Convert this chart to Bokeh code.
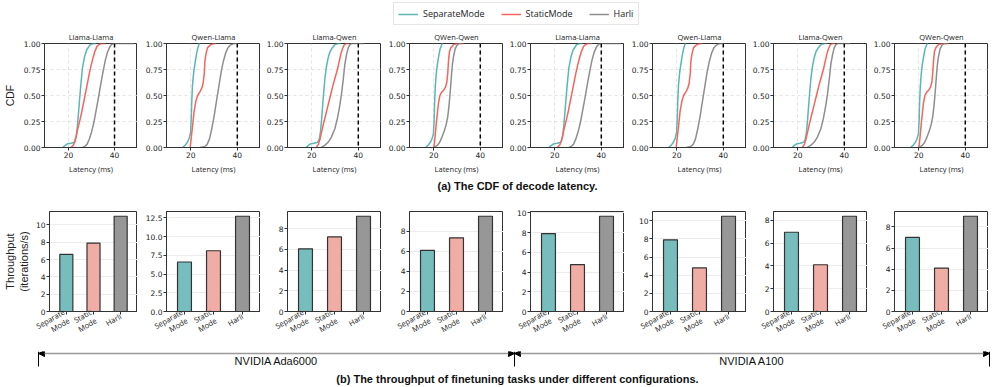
import math
from bokeh.plotting import figure
from bokeh.layouts import row, column
from bokeh.models import (Range1d, FactorRange, FixedTicker, NumeralTickFormatter, Span,
                          Legend, LegendItem, Arrow, NormalHead, ColumnDataSource)
from bokeh.core.properties import value
from bokeh.embed import file_html
from bokeh.resources import INLINE

# ---------------- data ----------------
MODES = ["SeparateMode", "StaticMode", "Harli"]
BAR_LABELS = ["Separate\nMode", "Static\nMode", "Harli"]
CDF_TITLES = ["Llama-Llama", "Qwen-Llama", "Llama-Qwen", "QWen-Qwen",
              "Llama-Llama", "Qwen-Llama", "Llama-Qwen", "QWen-Qwen"]
GPU_LABELS = ["NVIDIA Ada6000", "NVIDIA A100"]
SLO_MS = 40
CDF_TICKS_X = [20, 40]
CDF_TICKS_Y = [0, 0.25, 0.5, 0.75, 1.0]

# Llama-Llama
LL_SEP_X = [17.4, 18.5, 19.5, 21.0, 22.5, 23.3, 23.9, 24.3, 24.7, 25.3, 26.0, 26.9, 27.9, 29.4, 30.8, 32.0]
LL_SEP_Y = [0.0, 0.02, 0.035, 0.04, 0.05, 0.1, 0.22, 0.33, 0.44, 0.6, 0.76, 0.87, 0.94, 0.99, 1.0, 1.0]
LL_STA_X = [21.0, 22.0, 22.8, 23.5, 24.2, 25.0, 25.8, 26.6, 27.4, 28.2, 29.0, 29.8, 30.6, 31.4, 32.3, 33.2, 34.2, 36.0]
LL_STA_Y = [0.0, 0.02, 0.06, 0.13, 0.2, 0.27, 0.35, 0.44, 0.53, 0.62, 0.71, 0.79, 0.86, 0.92, 0.97, 0.99, 1.0, 1.0]
LL_HAR_X = [26.0, 27.0, 28.0, 29.0, 30.0, 31.0, 32.0, 33.0, 34.0, 35.0, 36.0, 37.0, 38.0, 39.0, 40.0, 48.5]
LL_HAR_Y = [0.0, 0.01, 0.03, 0.08, 0.15, 0.24, 0.36, 0.48, 0.61, 0.73, 0.84, 0.92, 0.97, 0.995, 1.0, 1.0]

# Qwen-Llama
QL_SEP_X = [16.4, 17.5, 18.5, 19.3, 19.9, 20.2, 20.4, 20.7, 21.2, 21.7, 22.3, 22.9, 23.6, 24.0]
QL_SEP_Y = [0.0, 0.02, 0.05, 0.09, 0.15, 0.3, 0.45, 0.6, 0.72, 0.8, 0.88, 0.95, 1.0, 1.0]
QL_STA_X = [19.7, 20.2, 20.7, 21.4, 22.2, 22.9, 24.0, 24.7, 25.3, 25.8, 26.0, 26.5, 27.2, 28.6, 30.1, 31.0]
QL_STA_Y = [0.0, 0.1, 0.2, 0.35, 0.45, 0.5, 0.54, 0.57, 0.62, 0.72, 0.82, 0.9, 0.96, 0.99, 1.0, 1.0]
QL_HAR_X = [24.0, 26.0, 27.0, 28.0, 29.0, 30.0, 31.0, 32.0, 33.0, 34.0, 35.0, 36.0, 37.0, 38.5, 40.0]
QL_HAR_Y = [0.0, 0.01, 0.03, 0.08, 0.18, 0.3, 0.44, 0.58, 0.72, 0.83, 0.91, 0.96, 0.985, 1.0, 1.0]

# Llama-Qwen
LQ_SEP_X = [17.5, 18.5, 19.5, 21.0, 22.5, 23.2, 23.7, 24.2, 24.7, 25.2, 25.7, 26.3, 27.0, 27.8, 28.8, 30.0, 31.3, 32.5]
LQ_SEP_Y = [0.0, 0.02, 0.035, 0.04, 0.05, 0.08, 0.15, 0.27, 0.42, 0.56, 0.68, 0.78, 0.86, 0.92, 0.96, 0.99, 1.0, 1.0]
LQ_STA_X = [21.9, 22.8, 23.5, 24.2, 25.0, 26.0, 27.0, 28.0, 29.0, 30.0, 31.0, 31.8, 32.5, 33.2, 34.0, 34.8, 36.0]
LQ_STA_Y = [0.0, 0.03, 0.08, 0.15, 0.23, 0.32, 0.41, 0.5, 0.59, 0.67, 0.75, 0.83, 0.9, 0.95, 0.99, 1.0, 1.0]
LQ_HAR_X = [24.0, 25.5, 27.0, 28.4, 29.9, 31.0, 32.0, 32.8, 33.5, 34.2, 35.0, 35.7, 36.4, 37.1, 42.5]
LQ_HAR_Y = [0.0, 0.02, 0.05, 0.1, 0.18, 0.28, 0.4, 0.52, 0.65, 0.8, 0.9, 0.96, 0.99, 1.0, 1.0]

# QWen-Qwen
QQ_SEP_X = [16.4, 17.5, 18.5, 19.3, 19.8, 20.1, 20.3, 20.6, 21.0, 21.5, 22.1, 22.7, 23.6, 24.0]
QQ_SEP_Y = [0.0, 0.02, 0.05, 0.09, 0.13, 0.25, 0.42, 0.58, 0.7, 0.8, 0.88, 0.95, 1.0, 1.0]
QQ_STA_X = [20.0, 20.5, 21.0, 21.5, 22.0, 22.6, 23.3, 24.2, 25.0, 25.6, 26.0, 26.3, 26.7, 27.3, 28.5, 30.0, 33.0]
QQ_STA_Y = [0.0, 0.1, 0.22, 0.33, 0.43, 0.5, 0.53, 0.55, 0.58, 0.63, 0.72, 0.83, 0.92, 0.96, 0.99, 1.0, 1.0]
QQ_HAR_X = [20.0, 21.5, 22.5, 23.5, 24.5, 25.3, 26.0, 26.6, 27.1, 27.6, 28.0, 28.5, 29.2, 30.0, 31.0, 32.0]
QQ_HAR_Y = [0.0, 0.02, 0.05, 0.1, 0.16, 0.22, 0.3, 0.42, 0.55, 0.7, 0.8, 0.88, 0.95, 0.985, 1.0, 1.0]

CDF_PANELS = [
    [(LL_SEP_X, LL_SEP_Y), (LL_STA_X, LL_STA_Y), (LL_HAR_X, LL_HAR_Y)],
    [(QL_SEP_X, QL_SEP_Y), (QL_STA_X, QL_STA_Y), (QL_HAR_X, QL_HAR_Y)],
    [(LQ_SEP_X, LQ_SEP_Y), (LQ_STA_X, LQ_STA_Y), (LQ_HAR_X, LQ_HAR_Y)],
    [(QQ_SEP_X, QQ_SEP_Y), (QQ_STA_X, QQ_STA_Y), (QQ_HAR_X, QQ_HAR_Y)],
]
CDF_PANELS = CDF_PANELS + CDF_PANELS  # A100 panels look identical

# throughput (iterations/s), Ada6000 x4 then A100 x4
SEP_TPUT = [6.6, 6.6, 6.05, 6.1, 7.9, 7.9, 6.95, 7.0]
STATIC_TPUT = [7.9, 8.1, 7.2, 7.35, 4.75, 4.8, 4.1, 4.1]
HARLI_TPUT = [11.0, 12.7, 9.2, 9.5, 9.65, 10.5, 8.35, 9.0]
TPUT_TICK_STEP = [2, 2.5, 2, 2, 2, 2, 2, 2]
TPUT_TICK_FMT = ["0", "0.0", "0", "0", "0", "0", "0", "0"]

# ---------------- style / layout (page pixel coordinates) ----------------
LINE_COLORS = ["#5ab7b2", "#f8645c", "#8e8e8e"]
BAR_COLORS = ["#77bdbd", "#f0ada5", "#979797"]
SPINE = "#333333"
TICK_FONT = "DejaVu Sans"
SMALL_FONT = "Open Sans"
BIG_FONT = "Liberation Sans"

PAGE_W = 996
FRAME_LEFT = [43, 166, 287, 409, 530, 652, 773, 894]
FRAME_W = 94
CAPTION_CX = 517
GROUP_EDGES = [38, 514, 989]


def border_left(i):
    start = 0 if i == 0 else FRAME_LEFT[i - 1] + FRAME_W
    return FRAME_LEFT[i] - start


def style_axes(p):
    p.outline_line_color = SPINE
    p.outline_line_width = 1
    p.outline_line_alpha = 1
    p.axis.axis_line_color = SPINE
    p.axis.major_tick_line_color = SPINE
    p.axis.major_tick_out = 3
    p.axis.major_tick_in = 0
    p.axis.minor_tick_line_color = None
    p.axis.major_label_text_font = TICK_FONT
    p.axis.major_label_text_font_size = "7.5px"
    p.axis.major_label_text_color = "#222222"
    p.axis.major_label_standoff = 1
    p.background_fill_color = "white"
    p.border_fill_color = "white"


def cdf_fig(i):
    bl = border_left(i)
    p = figure(width=bl + FRAME_W, height=148, x_range=Range1d(9.5, 50), y_range=Range1d(0, 1),
               min_border_left=bl, min_border_right=0, min_border_top=15, min_border_bottom=28,
               toolbar_location=None, output_backend="svg", title=CDF_TITLES[i])
    p.title.text_font = SMALL_FONT
    p.title.text_font_size = "7.5px"
    p.title.text_font_style = "normal"
    p.title.align = "center"
    p.title.standoff = 3
    p.title.text_color = "#222222"
    style_axes(p)
    p.xaxis.ticker = FixedTicker(ticks=CDF_TICKS_X)
    p.yaxis.ticker = FixedTicker(ticks=CDF_TICKS_Y)
    p.yaxis.formatter = NumeralTickFormatter(format="0.00")
    p.xaxis.axis_label = "Latency (ms)"
    p.xaxis.axis_label_text_font = SMALL_FONT
    p.xaxis.axis_label_text_font_size = "7.5px"
    p.xaxis.axis_label_text_font_style = "normal"
    p.xaxis.axis_label_standoff = 3
    p.xaxis.axis_label_text_color = "#222222"
    if i == 0:
        p.yaxis.axis_label = "CDF"
        p.yaxis.axis_label_text_font = BIG_FONT
        p.yaxis.axis_label_text_font_size = "10.5px"
        p.yaxis.axis_label_text_font_style = "normal"
        p.yaxis.axis_label_standoff = 5
        p.yaxis.axis_label_text_color = "#222222"
    p.grid.grid_line_color = "#dcdcdc"
    p.grid.grid_line_dash = "3 3"
    p.grid.grid_line_width = 0.8
    for (xs, ys), c in zip(CDF_PANELS[i], LINE_COLORS):
        p.line(x=xs, y=ys, line_color=c, line_width=1.5)
    p.add_layout(Span(location=SLO_MS, dimension="height", line_color="black",
                      line_dash="4 3", line_width=1.5))
    return p


def bar_fig(i):
    bl = border_left(i)
    vals = [SEP_TPUT[i], STATIC_TPUT[i], HARLI_TPUT[i]]
    ymax = max(vals) * 1.05
    p = figure(width=bl + FRAME_W, height=157,
               x_range=FactorRange(factors=BAR_LABELS, range_padding=0.08),
               y_range=Range1d(0, ymax),
               min_border_left=bl, min_border_right=0, min_border_top=17, min_border_bottom=34,
               toolbar_location=None, output_backend="svg")
    style_axes(p)
    step = TPUT_TICK_STEP[i]
    p.yaxis.ticker = FixedTicker(ticks=[k * step for k in range(int(ymax / step) + 1)])
    p.yaxis.formatter = NumeralTickFormatter(format=TPUT_TICK_FMT[i])
    p.xaxis.major_label_orientation = math.pi / 6
    p.xaxis.major_label_text_font = SMALL_FONT
    p.xaxis.major_label_text_font_size = "7.5px"
    p.xaxis.major_label_text_line_height = 1.0
    p.xgrid.visible = False
    p.ygrid.grid_line_color = "#ececec"
    p.ygrid.grid_line_width = 1
    if i == 0:
        p.yaxis.axis_label = "Throughput\n(iterations/s)"
        p.yaxis.axis_label_text_font = BIG_FONT
        p.yaxis.axis_label_text_font_size = "11px"
        p.yaxis.axis_label_text_font_style = "normal"
        p.yaxis.axis_label_text_line_height = 1.2
        p.yaxis.axis_label_standoff = 3
        p.yaxis.axis_label_text_color = "#222222"
    src = ColumnDataSource(dict(x=BAR_LABELS, top=vals, color=BAR_COLORS))
    p.vbar(x="x", top="top", width=0.48, source=src, fill_color="color",
           line_color=SPINE, line_width=1.2)
    return p


def strip(h, y_top):
    p = figure(width=PAGE_W, height=h, x_range=Range1d(0, PAGE_W),
               y_range=Range1d(y_top + h, y_top), min_border=0,
               x_axis_type=None, y_axis_type=None,
               toolbar_location=None, output_backend="svg")
    p.grid.visible = False
    p.outline_line_color = None
    p.background_fill_color = "white"
    p.border_fill_color = "white"
    return p


# legend strip (y 0..28)
leg = strip(28, 0)
items = []
for m, c in zip(MODES, LINE_COLORS):
    r = leg.line(x=[-50, -40], y=[5, 5], line_color=c, line_width=1.5)
    items.append(LegendItem(label=m, renderers=[r]))
legend = Legend(items=items, orientation="horizontal", location=(393, 3),
                glyph_width=20, glyph_height=12, label_height=12, label_standoff=5,
                spacing=16, padding=4, margin=0,
                label_text_font=SMALL_FONT, label_text_font_size="9px",
                label_text_color="#222222",
                border_line_color="#cccccc", border_line_width=1,
                background_fill_color="white", background_fill_alpha=1)
leg.add_layout(legend)

cdf_row = row(*[cdf_fig(i) for i in range(8)])

cap_a = strip(18, 176)
cap_a.text(x=[CAPTION_CX], y=[185], text=["(a) The CDF of decode latency."],
           text_align="center", text_baseline="middle", text_font=value(BIG_FONT),
           text_font_size="11px", text_font_style="bold", text_color="#111111")

bar_row = row(*[bar_fig(i) for i in range(8)])

arr = strip(18, 351)
arr.segment(x0=GROUP_EDGES, y0=[351] * 3, x1=GROUP_EDGES, y1=[366] * 3,
            line_color="black", line_width=1)
for k in range(2):
    arr.add_layout(Arrow(x_start=GROUP_EDGES[k], y_start=353, x_end=GROUP_EDGES[k + 1], y_end=353,
                         line_color="#999999", line_width=1.5,
                         start=NormalHead(size=6, fill_color="black", line_color="black"),
                         end=NormalHead(size=6, fill_color="black", line_color="black")))
arr.text(x=[(GROUP_EDGES[0] + GROUP_EDGES[1]) / 2, (GROUP_EDGES[1] + GROUP_EDGES[2]) / 2],
         y=[360.5, 360.5], text=GPU_LABELS, text_align="center", text_baseline="middle",
         text_font=value(BIG_FONT), text_font_size="11px", text_color="#111111")

cap_b = strip(17, 369)
cap_b.text(x=[CAPTION_CX], y=[378], text=["(b) The throughput of finetuning tasks under different configurations."],
           text_align="center", text_baseline="middle", text_font=value(BIG_FONT),
           text_font_size="11px", text_font_style="bold", text_color="#111111")

layout = column(leg, cdf_row, cap_a, bar_row, arr, cap_b)

open("out.html", "w").write(file_html(layout, INLINE))
